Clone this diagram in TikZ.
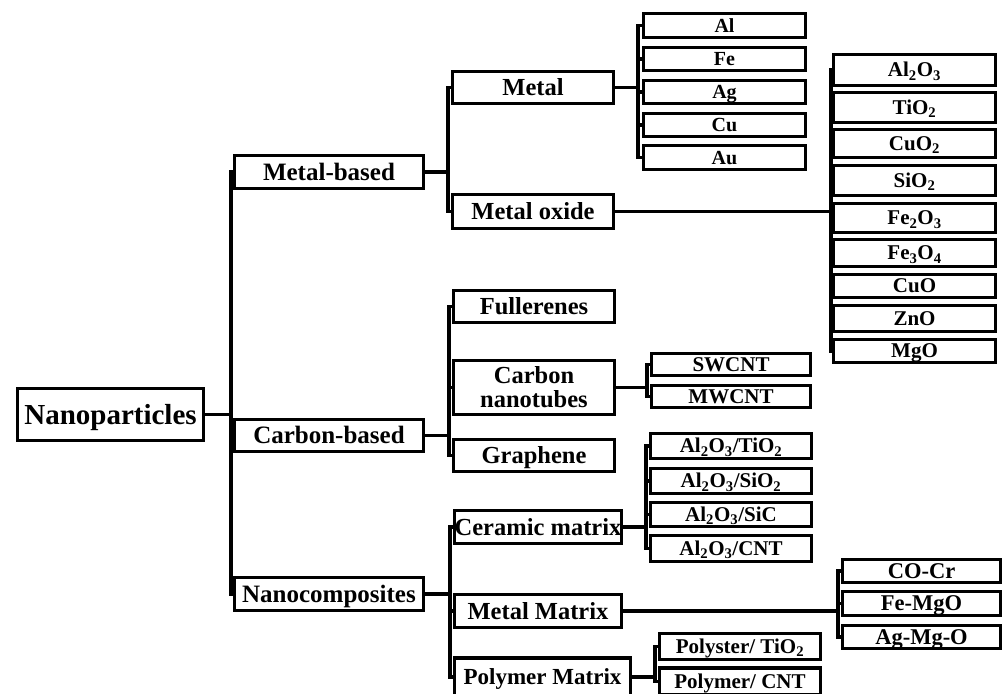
\documentclass[tikz,border=0pt]{standalone}
\usepackage{fontspec}
\setmainfont{Liberation Serif}
\tikzset{
  bx/.style={draw, line width=3.2pt, inner sep=0pt, align=center, font=\bfseries},
  lA/.style={bx, font=\fontsize{29}{31}\selectfont\bfseries, text height=19.1pt, text depth=0pt},
  lB/.style={bx, font=\fontsize{25}{27}\selectfont\bfseries, text height=16.5pt, text depth=0pt},
  lC/.style={bx, font=\fontsize{24.5}{24}\selectfont\bfseries, text height=16.2pt, text depth=0pt},
  lCs/.style={bx, font=\fontsize{23}{24}\selectfont\bfseries, text height=15.2pt, text depth=0pt},
  lCC/.style={bx, font=\fontsize{24.5}{24}\selectfont\bfseries},
  lD/.style={bx, font=\fontsize{21}{22}\selectfont\bfseries, text height=13.9pt, text depth=0pt},
  lDs/.style={bx, font=\fontsize{20}{22}\selectfont\bfseries, text height=13.2pt, text depth=0pt},
  lDl/.style={bx, font=\fontsize{22.5}{22}\selectfont\bfseries, text height=14.8pt, text depth=0pt},
  ln/.style={line width=3.2pt}
}
\newcommand{\sbs}[1]{\textsubscript{#1}}
\begin{document}
\begin{tikzpicture}[x=1pt,y=-1pt]
\useasboundingbox (0,0) rectangle (1003,693);
\clip (0,0) rectangle (1003,693);
% level 0
\node[lA, minimum width=186, minimum height=52] (np) at (110.5,414.5) {Nanoparticles};
% level 1
\node[lB, minimum width=189, minimum height=33] (mb) at (329,172) {Metal-based};
\node[lB, minimum width=189, minimum height=32] (cb) at (329,435.5) {Carbon-based};
\node[lB, minimum width=189, minimum height=33] (nc) at (329,594) {Nanocomposites};
% level 2
\node[lC, minimum width=161, minimum height=32] (metal) at (533,87.5) {Metal};
\node[lC, minimum width=161, minimum height=34] (mo) at (533,211.5) {Metal oxide};
\node[lC, minimum width=161, minimum height=32] (full) at (534,306.5) {Fullerenes};
\node[lCC, minimum width=161, minimum height=54] (cnt) at (534,387.5) {Carbon\\nanotubes};
\node[lC, minimum width=161, minimum height=32] (gr) at (534,455.5) {Graphene};
\node[lC, minimum width=167, minimum height=33] (cm) at (538,527) {Ceramic matrix};
\node[lC, minimum width=167, minimum height=33] (mm) at (538,611) {Metal Matrix};
\node[lCs, minimum width=176, minimum height=38] (pm) at (542.5,677) {Polymer Matrix};
% metals
\node[lDs, minimum width=162, minimum height=24] (al) at (724.5,25.5) {Al};
\node[lDs, minimum width=162, minimum height=23] (fe) at (724.5,59) {Fe};
\node[lDs, minimum width=162, minimum height=23] (ag) at (724.5,92) {Ag};
\node[lDs, minimum width=162, minimum height=23] (cu) at (724.5,125) {Cu};
\node[lDs, minimum width=162, minimum height=24] (au) at (724.5,157.5) {Au};
% oxides
\node[lD, minimum width=162, minimum height=31] (o1) at (914.5,70) {Al\sbs{2}O\sbs{3}};
\node[lD, minimum width=162, minimum height=30] (o2) at (914.5,107.5) {TiO\sbs{2}};
\node[lD, minimum width=162, minimum height=28] (o3) at (914.5,143.5) {CuO\sbs{2}};
\node[lD, minimum width=162, minimum height=30] (o4) at (914.5,180.5) {SiO\sbs{2}};
\node[lD, minimum width=162, minimum height=29] (o5) at (914.5,218) {Fe\sbs{2}O\sbs{3}};
\node[lD, minimum width=162, minimum height=27] (o6) at (914.5,253) {Fe\sbs{3}O\sbs{4}};
\node[lD, minimum width=162, minimum height=23] (o7) at (914.5,286) {CuO};
\node[lD, minimum width=162, minimum height=26] (o8) at (914.5,318.5) {ZnO};
\node[lD, minimum width=162, minimum height=23] (o9) at (914.5,351) {MgO};
% CNT
\node[lD, minimum width=159, minimum height=22] (sw) at (731,364.5) {SWCNT};
\node[lD, minimum width=159, minimum height=22] (mw) at (731,396.5) {MWCNT};
% ceramic
\node[lD, minimum width=161, minimum height=25] (c1) at (731,446) {Al\sbs{2}O\sbs{3}/TiO\sbs{2}};
\node[lD, minimum width=161, minimum height=25] (c2) at (731,481) {Al\sbs{2}O\sbs{3}/SiO\sbs{2}};
\node[lD, minimum width=161, minimum height=24] (c3) at (731,514.5) {Al\sbs{2}O\sbs{3}/SiC};
\node[lD, minimum width=161, minimum height=26] (c4) at (731,548.5) {Al\sbs{2}O\sbs{3}/CNT};
% metal matrix
\node[lDl, minimum width=158, minimum height=23] (m1) at (921.5,571) {CO-Cr};
\node[lDl, minimum width=158, minimum height=24] (m2) at (921.5,603.5) {Fe-MgO};
\node[lDl, minimum width=158, minimum height=23] (m3) at (921.5,637) {Ag-Mg-O};
% polymer
\node[lD, minimum width=161, minimum height=26] (p1) at (740,646.5) {Polyster/ TiO\sbs{2}};
\node[lD, minimum width=161, minimum height=27] (p2) at (740,681.5) {Polymer/ CNT};
% connectors
\coordinate (t1) at (231,0);
\draw[ln] (np.east) -- (np.east -| t1);
\draw[ln] (mb.west) -- (mb.west -| t1) -- (nc.west -| t1) -- (nc.west);
\draw[ln] (cb.west) -- (cb.west -| t1);
\coordinate (t2) at (448,0);
\draw[ln] (mb.east) -- (mb.east -| t2);
\draw[ln] (metal.west) -- (metal.west -| t2) -- (mo.west -| t2) -- (mo.west);
\coordinate (t3) at (638,0);
\draw[ln] (metal.east) -- (metal.east -| t3);
\draw[ln] (al.west) -- (al.west -| t3) -- (au.west -| t3) -- (au.west);
\foreach \n in {fe,ag,cu} \draw[ln] (\n.west) -- (\n.west -| t3);
\coordinate (t4) at (831,0);
\draw[ln] (mo.east) -- (mo.east -| t4);
\draw[ln] (o1.west) -- (o1.west -| t4) -- (o9.west -| t4) -- (o9.west);
\foreach \n in {o2,o3,o4,o5,o6,o7,o8} \draw[ln] (\n.west) -- (\n.west -| t4);
\coordinate (t5) at (449,0);
\draw[ln] (cb.east) -- (cb.east -| t5);
\draw[ln] (full.west) -- (full.west -| t5) -- (gr.west -| t5) -- (gr.west);
\draw[ln] (cnt.west) -- (cnt.west -| t5);
\coordinate (t6) at (647,0);
\draw[ln] (cnt.east) -- (cnt.east -| t6);
\draw[ln] (sw.west) -- (sw.west -| t6) -- (mw.west -| t6) -- (mw.west);
\coordinate (t7) at (450,0);
\draw[ln] (nc.east) -- (nc.east -| t7);
\draw[ln] (cm.west) -- (cm.west -| t7) -- (pm.west -| t7) -- (pm.west);
\draw[ln] (mm.west) -- (mm.west -| t7);
\coordinate (t8) at (646,0);
\draw[ln] (cm.east) -- (cm.east -| t8);
\draw[ln] (c1.west) -- (c1.west -| t8) -- (c4.west -| t8) -- (c4.west);
\foreach \n in {c2,c3} \draw[ln] (\n.west) -- (\n.west -| t8);
\coordinate (t9) at (838,0);
\draw[ln] (mm.east) -- (mm.east -| t9);
\draw[ln] (m1.west) -- (m1.west -| t9) -- (m3.west -| t9) -- (m3.west);
\draw[ln] (m2.west) -- (m2.west -| t9);
\coordinate (t10) at (655,0);
\draw[ln] (pm.east) -- (pm.east -| t10);
\draw[ln] (p1.west) -- (p1.west -| t10) -- (p2.west -| t10) -- (p2.west);
\end{tikzpicture}
\end{document}
